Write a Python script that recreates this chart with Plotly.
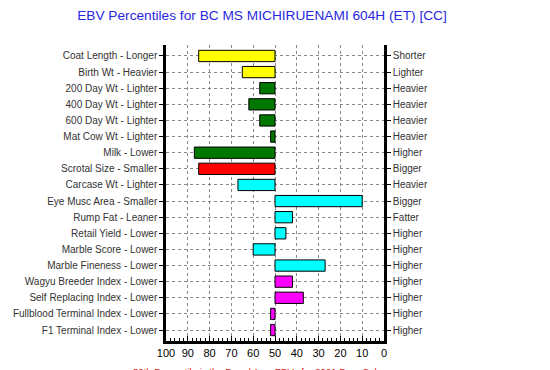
import plotly.graph_objects as go

left_labels = [
    "Coat Length - Longer", "Birth Wt - Heavier", "200 Day Wt - Lighter",
    "400 Day Wt - Lighter", "600 Day Wt - Lighter", "Mat Cow Wt - Lighter",
    "Milk - Lower", "Scrotal Size - Smaller", "Carcase Wt - Lighter",
    "Eye Musc Area - Smaller", "Rump Fat - Leaner", "Retail Yield - Lower",
    "Marble Score - Lower", "Marble Fineness - Lower", "Wagyu Breeder Index - Lower",
    "Self Replacing Index - Lower", "Fullblood Terminal Index - Lower", "F1 Terminal Index - Lower",
]
right_labels = [
    "Shorter", "Lighter", "Heavier", "Heavier", "Heavier", "Heavier",
    "Higher", "Bigger", "Heavier", "Bigger", "Fatter", "Higher",
    "Higher", "Higher", "Higher", "Higher", "Higher", "Higher",
]
percentiles = [85, 65, 57, 62, 57, 52, 87, 85, 67, 10, 42, 45, 60, 27, 42, 37, 52, 52]
bar_colors = [
    "#FFFF00", "#FFFF00", "#007800", "#007800", "#007800", "#007800",
    "#007800", "#FF0000", "#00FFFF", "#00FFFF", "#00FFFF", "#00FFFF",
    "#00FFFF", "#00FFFF", "#FF00FF", "#FF00FF", "#FF00FF", "#FF00FF",
]
x_ticks = [100, 90, 80, 70, 60, 50, 40, 30, 20, 10, 0]
breed_avg = 50

positions = list(range(len(left_labels)))

fig = go.Figure()
fig.add_trace(go.Bar(
    y=positions,
    x=[p - breed_avg for p in percentiles],
    base=breed_avg,
    orientation="h",
    width=0.7,
    marker=dict(color=bar_colors, line=dict(color="black", width=1)),
    hoverinfo="skip",
))
fig.add_trace(go.Scatter(
    y=positions, x=[breed_avg] * len(positions), yaxis="y2",
    mode="markers", marker=dict(opacity=0), hoverinfo="skip", showlegend=False,
))

yrange = [len(positions) - 1 + 0.68, -0.68]
label_font = dict(family="Liberation Sans, Arial, sans-serif", size=10, color="#333333")
grid_dash = "3px,3px"

fig.update_layout(
    width=550, height=370,
    margin=dict(l=166, r=166, t=45, b=29),
    paper_bgcolor="white", plot_bgcolor="white",
    showlegend=False,
    title=dict(
        text="EBV Percentiles for BC MS MICHIRUENAMI 604H (ET) [CC]",
        font=dict(family="Liberation Sans, Arial, sans-serif", size=13.7, color="#2828e0"),
        x=262 / 550, xanchor="center", y=1 - 15 / 370, yanchor="middle",
    ),
    xaxis=dict(
        range=[100, 0], tickvals=x_ticks, ticktext=[str(t) for t in x_ticks],
        showgrid=True, gridcolor="#888888", griddash=grid_dash, gridwidth=1,
        showline=True, linecolor="black", linewidth=2.5,
        ticks="inside", ticklen=5, tickcolor="black",
        minor=dict(ticks="inside", dtick=2, ticklen=3, tickcolor="black", showgrid=False),
        tickfont=dict(family="Liberation Sans, Arial, sans-serif", size=11, color="black"),
        zeroline=False, fixedrange=True, automargin=False,
    ),
    yaxis=dict(
        range=yrange, tickvals=positions, ticktext=left_labels,
        showgrid=True, gridcolor="#888888", griddash=grid_dash, gridwidth=1,
        showline=True, linecolor="black", linewidth=2.5,
        ticks="outside", ticklen=4, tickcolor="black",
        tickfont=label_font, zeroline=False, automargin=False, fixedrange=True,
    ),
    yaxis2=dict(
        range=yrange, tickvals=positions, ticktext=right_labels,
        overlaying="y", side="right", showgrid=False,
        showline=True, linecolor="black", linewidth=2.5,
        ticks="outside", ticklen=4, tickcolor="black",
        tickfont=label_font, zeroline=False, automargin=False, fixedrange=True,
    ),
    bargap=0.3,
)

fig.add_annotation(
    text="50th Percentile is the Breed Avg. EBVs for 2021 Born Calves",
    xref="paper", yref="paper", x=(262 - 166) / 218, y=-(364 - 341) / 296,
    xanchor="center", yanchor="top", showarrow=False,
    font=dict(family="Liberation Sans, Arial, sans-serif", size=9.6, color="#e02020"),
)

fig.write_html("out.html", config={"displayModeBar": False},
               post_script="document.body.style.margin='0';")
